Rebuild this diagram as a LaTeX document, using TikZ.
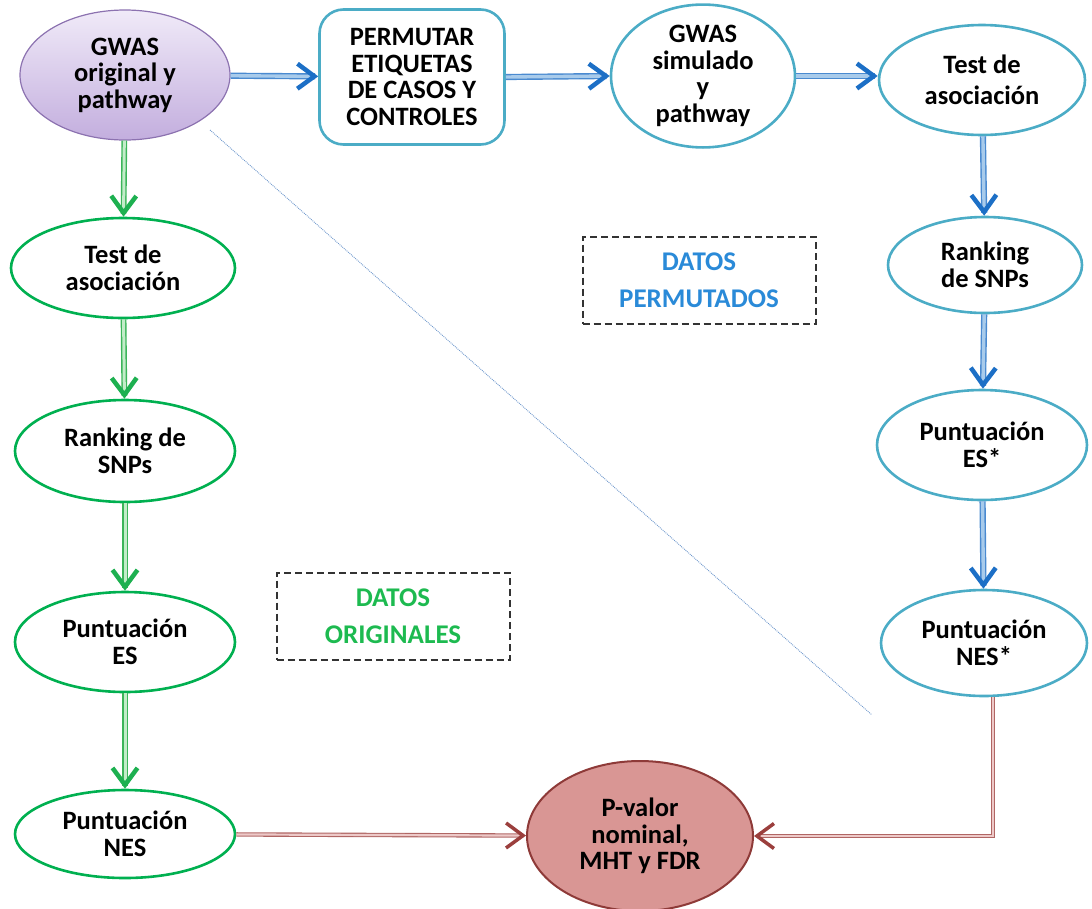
\documentclass[tikz,border=0pt]{standalone}
\usepackage{fontspec}
\setmainfont{Carlito}
\usetikzlibrary{shapes.geometric,arrows.meta,decorations.markings}

\definecolor{tealB}{HTML}{4BACC6}
\definecolor{greenB}{HTML}{00B050}
\definecolor{purpB}{HTML}{8C72B0}
\definecolor{purpTop}{HTML}{F0EAF8}
\definecolor{purpBot}{HTML}{C3AEDE}
\definecolor{redFill}{HTML}{D99694}
\definecolor{redB}{HTML}{8E3A38}
\definecolor{blueHead}{HTML}{1C6FC6}
\definecolor{blueOut}{HTML}{4A8AD0}
\definecolor{blueIn}{HTML}{A8CBEB}
\definecolor{greenHead}{HTML}{1DB050}
\definecolor{greenOut}{HTML}{3CB55A}
\definecolor{greenIn}{HTML}{C2ECC9}
\definecolor{redHead}{HTML}{9B3F3D}
\definecolor{redOut}{HTML}{B06664}
\definecolor{redIn}{HTML}{EDC9C8}
\definecolor{permText}{HTML}{2A8AD8}
\definecolor{origText}{HTML}{1DBA50}
\definecolor{diagLine}{HTML}{6F98CC}

\tikzset{
  lbl/.style={font=\bfseries\fontsize{26.5}{26.5}\selectfont, align=center, text=black, inner sep=0pt},
  ellT/.style={lbl, ellipse, draw=tealB, line width=2.6pt, fill=white},
  ellG/.style={lbl, ellipse, draw=greenB, line width=2.6pt, fill=white},
  % double shaft, with a solid barb placed at the end of the path
  flow/.style 2 args={shorten >=3pt,
    postaction={draw=none, decorate, decoration={markings,
      mark=at position 1 with {\pgfsetinnerlinewidth{0pt}%
        \arrow[line width=#2, color=#1]{Straight Barb[length=17pt,width=25pt]}}}}},
  blueflow/.style={flow={blueHead}{4.5pt}, line width=1.4pt, double distance=3.4pt, draw=blueOut, double=blueIn},
  greenflow/.style={flow={greenHead}{4.5pt}, line width=1.4pt, double distance=3pt, draw=greenOut, double=greenIn},
  redflow/.style={flow={redHead}{3.5pt}, line width=1.1pt, double distance=2.2pt, draw=redOut, double=redIn},
  tagbox/.style={draw=black!80, dash pattern=on 7pt off 4pt, line width=2pt,
    minimum width=233pt, minimum height=87pt,
    font=\bfseries\fontsize{27}{37}\selectfont, align=center, inner sep=0pt}
}

\begin{document}
\begin{tikzpicture}[x=1pt,y=-1pt]
\useasboundingbox (0,0) rectangle (1092,908);

% separator between original and permuted data
\coordinate (d1) at (210,130);
\coordinate (d2) at (872,715);
\draw[diagLine, line width=0.9pt, densely dotted] (d1) -- (d2);

% top row
\node[lbl, ellipse, draw=purpB, line width=1.2pt, top color=purpTop, bottom color=purpBot,
      minimum width=210pt, minimum height=130pt] (gwas) at (125,75) {GWAS\\original y\\pathway};
\node[lbl, draw=tealB, line width=2.6pt, rounded corners=24pt, fill=white,
      minimum width=185pt, minimum height=135pt] (perm) at (412,77) {PERMUTAR\\ETIQUETAS\\DE CASOS Y\\CONTROLES};
\node[ellT, minimum width=184pt, minimum height=128pt] (sim) at (703,76) {GWAS\\simulado\\y\\pathway};
\node[ellT, minimum width=206pt, minimum height=110pt] (rtest) at (982,80) {Test de\\[5pt]asociación};

% permuted column
\node[ellT, minimum width=194pt, minimum height=96pt] (rrank) at (985,265) {Ranking\\de SNPs};
\node[ellT, minimum width=210pt, minimum height=110pt] (res) at (982,445) {Puntuación\\ES*};
\node[ellT, minimum width=206pt, minimum height=106pt] (rnes) at (984,643) {Puntuación\\NES*};

% original column
\node[ellG, minimum width=224pt, minimum height=100pt] (ltest) at (123,268) {Test de\\asociación};
\node[ellG, minimum width=220pt, minimum height=102pt] (lrank) at (125,451) {Ranking de\\SNPs};
\node[ellG, minimum width=220pt, minimum height=100pt] (les) at (125,642) {Puntuación\\ES};
\node[ellG, minimum width=220pt, minimum height=88pt] (lnes) at (125,834) {Puntuación\\NES};

% result
\node[lbl, ellipse, draw=redB, line width=2pt, fill=redFill,
      minimum width=226pt, minimum height=150pt] (pval) at (640,836) {P-valor\\nominal,\\MHT y FDR};

% labels of the two halves
\node[tagbox, text=permText] (tperm) at (699,280) {DATOS\\PERMUTADOS};
\node[tagbox, text=origText] (torig) at (393,616) {DATOS\\ORIGINALES};

% permuted flow
\draw[blueflow] (gwas) -- (perm);
\draw[blueflow] (perm.east) -- (sim.west);
\draw[blueflow] (sim.east) -- (rtest.west |- sim.east);
\draw[blueflow] (rtest) -- (rrank);
\draw[blueflow] (rrank) -- (res);
\draw[blueflow] (res) -- (rnes);

% original flow
\draw[greenflow] (gwas) -- (ltest);
\draw[greenflow] (ltest) -- (lrank);
\draw[greenflow] (lrank) -- (les);
\draw[greenflow] (les) -- (lnes);

% both feed the significance estimate
\draw[redflow] (lnes) -- (pval);
\draw[redflow] ([xshift=9pt]rnes.south) |- (pval.east);
\end{tikzpicture}
\end{document}
